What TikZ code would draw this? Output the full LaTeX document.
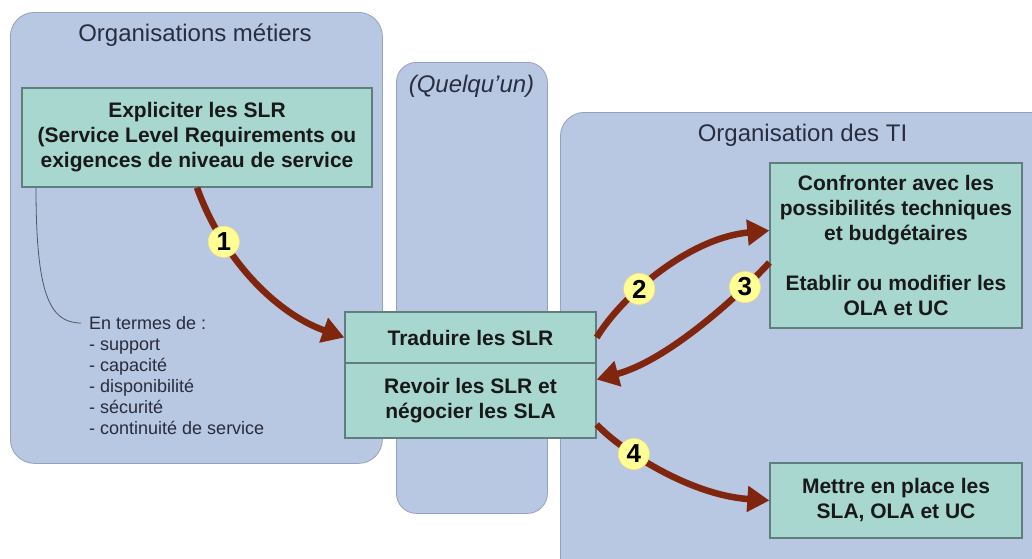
\documentclass[tikz,border=0pt]{standalone}
\usepackage{fontspec}
\setmainfont{Liberation Sans}
\usetikzlibrary{arrows.meta,calc}
\definecolor{panel}{RGB}{184,199,226}
\definecolor{panelborder}{RGB}{150,162,188}
\definecolor{boxfill}{RGB}{168,215,208}
\definecolor{boxborder}{RGB}{96,126,124}
\definecolor{arrowc}{RGB}{128,38,14}
\definecolor{badge}{RGB}{255,255,150}
\definecolor{titletxt}{RGB}{40,46,64}
\definecolor{notetxt}{RGB}{40,44,60}
\begin{document}
\begin{tikzpicture}[x=1pt,y=-1pt,
  panelbox/.style={fill=panel, draw=panelborder, line width=0.8pt, rounded corners=24pt, inner sep=0pt, anchor=north west},
  taskbox/.style={draw=boxborder, fill=boxfill, line width=1.3pt, inner sep=0pt, align=center,
     font=\bfseries\fontsize{21}{25}\selectfont, text=black!90},
  flow/.style={draw=arrowc, line width=6.5pt, -{Triangle[length=22pt,width=25pt]}},
  badgenode/.style={circle, fill=badge, draw=badge!80!orange, line width=0.6pt, inner sep=0pt, minimum size=31pt,
     font=\bfseries\fontsize{26}{26}\selectfont, text=black},
  title/.style={font=\fontsize{24}{28}\selectfont, text=titletxt, inner sep=0pt},
  thinline/.style={draw=notetxt!80, line width=0.8pt}]
\useasboundingbox (0,0) rectangle (1032,558);
\fill[white] (0,0) rectangle (1032,558);
\clip (0,0) rectangle (1032,558);

% panels
\node[panelbox, minimum width=372pt, minimum height=451pt] (leftpanel) at (10,12) {};
\node[panelbox, minimum width=151pt, minimum height=451pt, rounded corners=20pt] (midpanel) at (396,62) {};
\node[panelbox, minimum width=500pt, minimum height=470pt] (rightpanel) at (560,112) {};

% titles
\node[title] (t1) at (195,35) {Organisations métiers};
\node[title, font=\itshape\fontsize{24}{28}\selectfont] (t2) at (471.5,86) {(Quelqu’un)};
\node[title] (t3) at (802.5,135) {Organisation des TI};

% boxes
\node[taskbox, minimum width=350pt, minimum height=99pt] (expl) at (197,137.5)
  {Expliciter les SLR\\(Service Level Requirements ou\\exigences de niveau de service};
\node[taskbox, minimum width=251pt, minimum height=51pt] (trad) at (470.5,337.5) {Traduire les SLR};
\node[taskbox, minimum width=251pt, minimum height=75pt] (revoir) at (470.5,400.5)
  {Revoir les SLR et\\négocier les SLA};
\node[taskbox, minimum width=252pt, minimum height=165pt] (conf) at (896,245.5)
  {Confronter avec les\\possibilités techniques\\et budgétaires\\[25pt]Etablir ou modifier les\\OLA et UC};
\node[taskbox, minimum width=252pt, minimum height=75pt] (mettre) at (896,500.5)
  {Mettre en place les\\SLA, OLA et UC};

% note
\node[anchor=north west, align=left, inner sep=0pt, font=\fontsize{18}{21}\selectfont, text=notetxt] (termes) at (89,316)
  {En termes de :\\- support\\- capacité\\- disponibilité\\- sécurité\\- continuité de service};
\draw[thinline] ([xshift=-161pt]expl.south) .. controls +(0,105) and +(-32,0) .. ([xshift=-8pt,yshift=-7pt]termes.north west);

% arrows
\draw[flow] (expl.south) .. controls +(26,72) and +(-68,-24) .. (trad.west)
  node[badgenode, pos=0.27] (b1) {1};
\draw[flow] (trad.east) .. controls +(26,-42.5) and +(-80,7.5) .. ([yshift=15pt]conf.west)
  node[badgenode, pos=0.36] (b2) {2};
\draw[flow] ([yshift=-17pt]conf.west) .. controls +(-25,27.5) and +(74,-20) .. ([yshift=21pt]revoir.east)
  node[badgenode, pos=0.23] (b3) {3};
\draw[flow] ([yshift=-24pt]revoir.east) .. controls +(24,25.5) and +(-80,-5.5) .. (mettre.west)
  node[badgenode, pos=0.33] (b4) {4};
\end{tikzpicture}
\end{document}
